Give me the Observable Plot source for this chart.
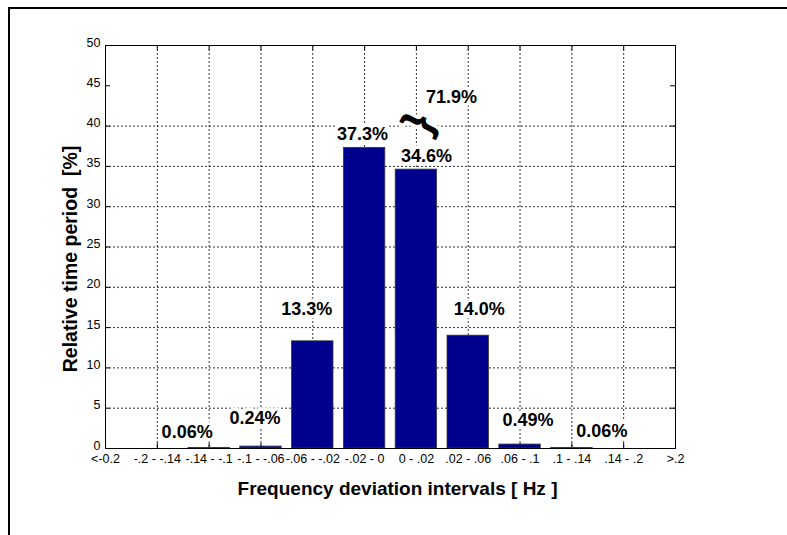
<!DOCTYPE html>
<html>
<head>
<meta charset="utf-8">
<script src="https://cdn.jsdelivr.net/npm/d3@7"></script>
<script src="https://cdn.jsdelivr.net/npm/@observablehq/plot@0.6"></script>
<style>
  html, body { margin: 0; padding: 0; background: #fff; }
  #wrap { position: relative; width: 787px; height: 535px; overflow: hidden; }
  #edge { position: absolute; left: 8px; top: 7px; right: 0; bottom: 0;
          border-top: 2px solid #000; border-left: 2px solid #000; pointer-events: none; }
</style>
</head>
<body>
<div id="wrap"><div id="edge"></div></div>
<script>
// Frequency deviation intervals in Hz, one per tick position 0..11
const intervals = ["<-0.2", "-.2 - -.14", "-.14 - -.1", "-.1 - -.06", "-.06 - -.02", "-.02 - 0",
                   "0 - .02", ".02 - .06", ".06 - .1", ".1 - .14", ".14 - .2", ">.2"];
// Intervals that carry a bar (index into intervals) and their share of time in %
const barIndex = [2, 3, 4, 5, 6, 7, 8, 9];
const share = [0.06, 0.24, 13.3, 37.3, 34.6, 14.0, 0.49, 0.06];
// The two central intervals whose shares are summed in the annotation
const centralPair = [5, 6];
// Value axis ticks
const yTicks = [0, 5, 10, 15, 20, 25, 30, 35, 40, 45, 50];
const yGridLines = [5, 10, 15, 20, 25, 30, 35, 40];

// ---- layout ----
const W = 787, H = 535;
const mL = 105, mR = 112, mT = 45, mB = 87;
const frameW = W - mL - mR, frameH = H - mT - mB;
const tickLen = 5;
const barHalf = 0.4;
const barFill = "#00008f";
// pixel nudges for each bar label, in bar order
const labelNudge = [[-22, -15.5], [-6, -28], [-6, -32], [-2, -14], [10, -13], [11, -26], [8, -24.5], [30, -16.5]];
const font = "'Liberation Sans', Arial, Helvetica, sans-serif";
const tickFont = 12.5;

const fmt = v => v < 1 ? v.toFixed(2) + "%" : v.toFixed(1) + "%";
const rows = barIndex.map((k, i) => ({k, v: share[i], label: fmt(share[i])}));
const xPositions = d3.range(intervals.length);

const pair = rows.filter(d => centralPair.includes(d.k));
const pairSum = d3.sum(pair, d => d.v);
const pairTop = d3.max(pair, d => d.v);
const pairMid = d3.mean(centralPair);

const halo = {stroke: "white", strokeWidth: 7, strokeLinejoin: "round", paintOrder: "stroke"};
const labelFont = {fontSize: 18, fontWeight: "bold", fill: "#000"};

const chart = Plot.plot({
  width: W, height: H,
  marginLeft: mL, marginRight: mR, marginTop: mT, marginBottom: mB,
  style: {fontFamily: font, fontSize: tickFont + "px", background: "white", color: "#000"},
  x: {type: "linear", domain: [0, intervals.length - 1]},
  y: {domain: [0, 50]},
  marks: [
    // dotted grid
    Plot.gridX(xPositions.slice(1, -1), {stroke: "#333", strokeOpacity: 1, strokeDasharray: "2,2"}),
    Plot.gridY(yGridLines, {stroke: "#333", strokeOpacity: 1, strokeDasharray: "2,2"}),
    // inward ticks on all four sides
    Plot.ruleY(yTicks, {insetRight: frameW - tickLen, stroke: "#000"}),
    Plot.ruleY(yTicks, {insetLeft: frameW - tickLen, stroke: "#000"}),
    Plot.ruleX(xPositions, {insetTop: frameH - tickLen, stroke: "#000"}),
    Plot.ruleX(xPositions, {insetBottom: frameH - tickLen, stroke: "#000"}),
    // bars
    Plot.rectY(rows, {
      x1: d => d.k - barHalf, x2: d => d.k + barHalf, y1: 0, y2: "v",
      fill: barFill, stroke: "#3a3a3a", strokeWidth: 0.8
    }),
    Plot.frame({stroke: "#000"}),
    // tick labels
    Plot.axisY(yTicks, {tickSize: 0, tickPadding: 5, fontSize: tickFont, label: null, dy: -3}),
    Plot.axisX(xPositions, {tickSize: 0, tickPadding: 5.5, fontSize: tickFont, label: null,
                            tickFormat: i => intervals[i]}),
    // axis titles
    Plot.text(["Frequency deviation intervals [ Hz ]"], {
      text: d => d, frameAnchor: "bottom", lineAnchor: "middle", textAnchor: "middle",
      dx: 7, dy: 40, fontSize: 19, fontWeight: "bold"
    }),
    Plot.text(["Relative time period\u00a0 [%]"], {
      text: d => d, frameAnchor: "left", lineAnchor: "middle", textAnchor: "middle",
      rotate: -90, dx: -35, dy: 12, fontSize: 19.5, fontWeight: "bold"
    }),
    // value labels above the bars
    ...rows.map((d, i) => Plot.text([d], {
      x: "k", y: "v", text: "label",
      dx: labelNudge[i][0], dy: labelNudge[i][1],
      ...labelFont, ...halo
    })),
    // combined share of the two central intervals, with a brace
    Plot.text([pairSum], {
      x: () => pairMid, y: () => pairTop, text: v => v.toFixed(1) + "%",
      dx: 61, dy: -51, ...labelFont, ...halo
    }),
    Plot.text(["}"], {
      x: () => pairMid, y: () => pairTop, text: d => d,
      dx: 28, dy: -25, rotate: -63, fontSize: 44, fontWeight: "bold", fill: "#000", ...halo
    })
  ]
});

document.getElementById("wrap").prepend(chart);
</script>
</body>
</html>
